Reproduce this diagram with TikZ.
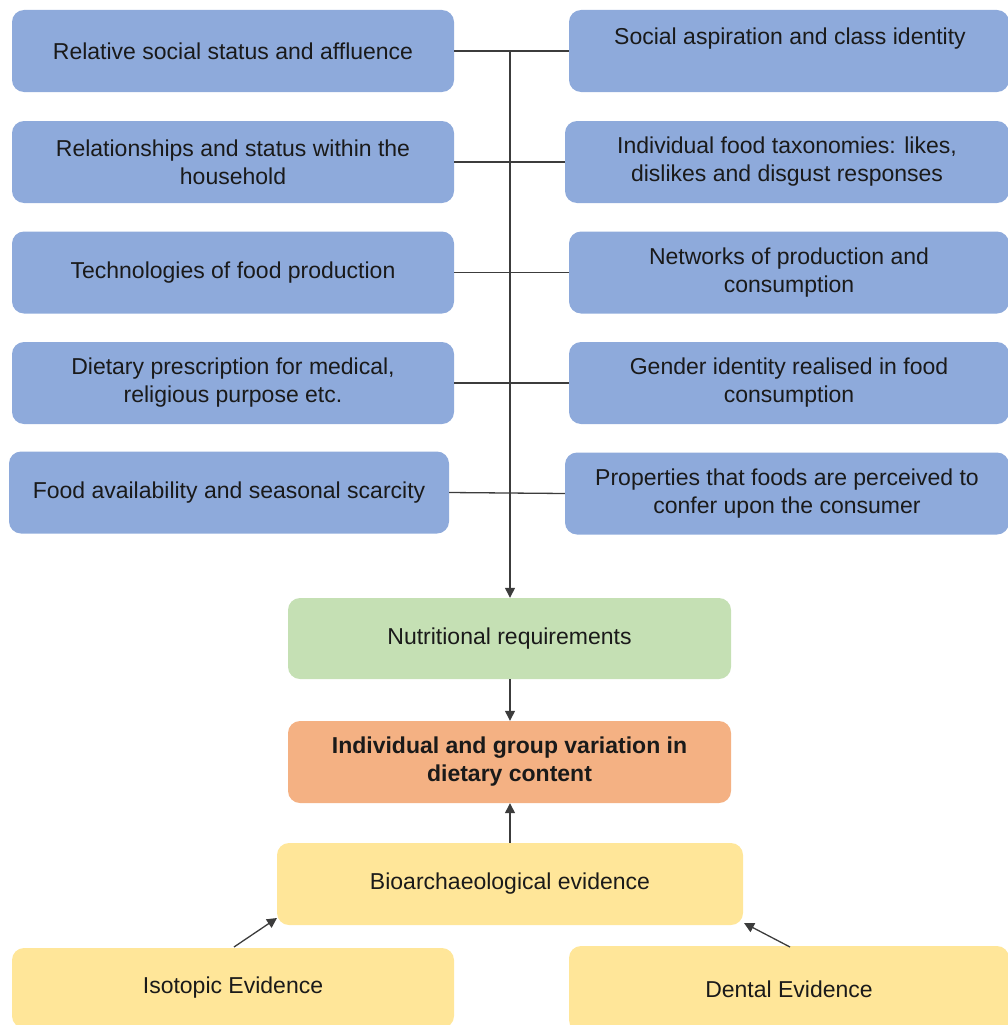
\documentclass[tikz,border=0pt]{standalone}
\usepackage{fontspec}
\setmainfont{Liberation Sans}
\usetikzlibrary{arrows.meta}
\definecolor{boxblue}{HTML}{8EAADB}
\definecolor{boxgreen}{HTML}{C5E0B4}
\definecolor{boxorange}{HTML}{F4B183}
\definecolor{boxyellow}{HTML}{FFE699}
\definecolor{ink}{HTML}{1A1A1A}
\begin{document}
\begin{tikzpicture}[x=1pt,y=-1pt,
  font=\fontsize{23}{28}\selectfont,
  box/.style={rectangle, rounded corners=12pt, draw=none, text=ink,
    align=center, inner sep=0pt},
  factor/.style={box, fill=boxblue, minimum height=82pt},
  link/.style={draw=ink!85, line width=1.3pt},
  arr/.style={link, -{Triangle[length=10pt,width=10pt]}}]
\useasboundingbox (0,0) rectangle (1007,1025);

% left column of factors
\node[factor, minimum width=442pt] (l1) at (233,51) {Relative social status and affluence};
\node[factor, minimum width=442pt] (l2) at (233,162) {Relationships and status within the\\household};
\node[factor, minimum width=442pt] (l3) at (233,272.5) {Technologies of food production};
\node[factor, minimum width=442pt] (l4) at (233,383) {Dietary prescription for medical,\\religious purpose etc.};
\node[factor, minimum width=440pt] (l5) at (229,492.5) {Food availability and seasonal scarcity};

% right column of factors
\node[factor, minimum width=440pt] (r1) at (789,51) {};
\node[text=ink] at (790,39) {Social aspiration and class identity};
\node[factor, minimum width=444pt] (r2) at (787,162) {Individual food taxonomies: likes,\\dislikes and disgust responses};
\node[factor, minimum width=440pt] (r3) at (789,272.5) {Networks of production and\\consumption};
\node[factor, minimum width=440pt] (r4) at (789,383) {Gender identity realised in food\\consumption};
\node[factor, minimum width=444pt] (r5) at (787,493.5) {Properties that foods are perceived to\\confer upon the consumer};

% central chain
\node[box, fill=boxgreen, minimum width=443pt, minimum height=81pt] (nut) at (509.5,638.5) {Nutritional requirements};
\node[box, fill=boxorange, minimum width=443pt, minimum height=82pt, font=\fontsize{23}{28}\selectfont\bfseries] (var) at (509.5,762) {Individual and group variation in\\dietary content};
\node[box, fill=boxyellow, minimum width=466pt, minimum height=82pt] (bio) at (510,884) {Bioarchaeological evidence};
\node[box, fill=boxyellow, minimum width=442pt, minimum height=80pt] (iso) at (233,988) {Isotopic Evidence};
\node[box, fill=boxyellow, minimum width=440pt, minimum height=86pt] (den) at (789,989) {Dental Evidence};

% horizontal ties between the two columns
\draw[link] (l1.east) -- (r1.west);
\draw[link] (l2.east) -- (r2.west);
\draw[link] (l3.east) -- (r3.west);
\draw[link] (l4.east) -- (r4.west);
\draw[link] (l5.east) -- (r5.west);

% trunk down to nutritional requirements
\coordinate (trunk) at (510,51);
\draw[arr] (trunk) -- (trunk |- nut.north);
\draw[arr] (nut.south -| trunk) -- (var.north -| trunk);
\draw[arr] (bio.north -| trunk) -- (var.south -| trunk);

% evidence feeding the bioarchaeological record
\coordinate (isoTop) at (234,947);
\coordinate (bioSW) at (277,918);
\coordinate (denTop) at (790,947);
\coordinate (bioSE) at (744,923);
\draw[arr] (isoTop) -- (bioSW);
\draw[arr] (denTop) -- (bioSE);
\end{tikzpicture}
\end{document}
